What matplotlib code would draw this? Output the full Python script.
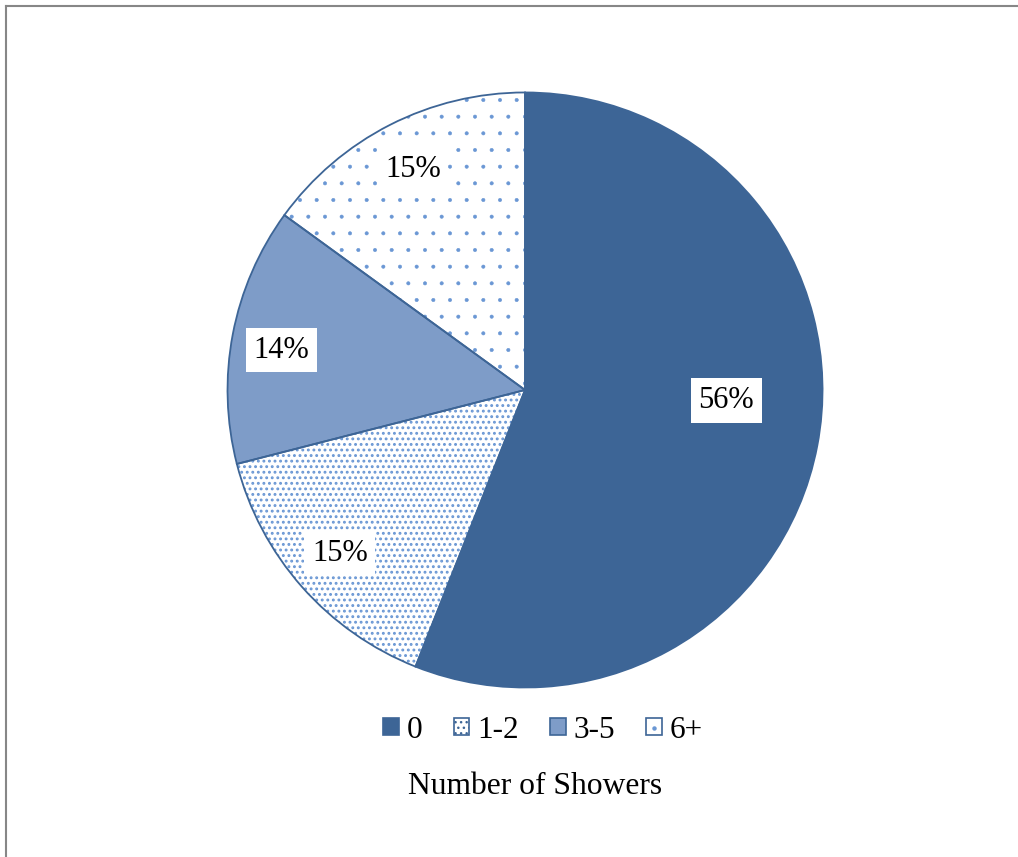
import matplotlib
matplotlib.use("Agg")
import matplotlib.pyplot as plt
from matplotlib.patches import Patch
from matplotlib.lines import Line2D

categories = ["0", "1-2", "3-5", "6+"]
shares = [56, 15, 14, 15]
fills = ["#3D6596", "white", "#7E9CC8", "white"]
hatches = [None, "...", None, "."]
title = "Number of Showers"

dark = "#3D6596"
dot = "#6A97D4"
plt.rcParams["font.family"] = ["Liberation Serif", "DejaVu Serif"]
plt.rcParams["hatch.color"] = dot
plt.rcParams["hatch.linewidth"] = 1.0

fig = plt.figure(figsize=(10.18, 8.57), dpi=100)
ax = fig.add_axes([0.2235, 0.1978, 0.5845, 0.6943])

# filled / hatched wedges, no outline so hatch keeps its light colour
wedges, _, autotexts = ax.pie(shares, colors=fills, startangle=90, counterclock=False,
                              autopct="%d%%", pctdistance=0.83, hatch=hatches,
                              textprops=dict(fontsize=22, color="black"))
if hasattr(wedges[3], "set_hatch_linewidth"):
    wedges[3].set_hatch_linewidth(0.4)
    wedges[1].set_hatch_linewidth(1.3)

# outlines on top
ax.pie(shares, startangle=90, counterclock=False,
       wedgeprops=dict(fill=False, edgecolor=dark, linewidth=1.3))

for t in autotexts:
    t.set_bbox(dict(facecolor="white", edgecolor="none", pad=5.5))
# label placement tweaks (excel best fit)
autotexts[0].set_position((0.676, -0.035))
autotexts[2].set_position((-0.818, 0.134))

ax.set_xlim(-1, 1)
ax.set_ylim(-1, 1)

handles = [Patch(facecolor=c, edgecolor=dark, hatch=h, linewidth=1.2)
           for c, h in zip(fills[:3], hatches[:3])]
handles.append((Patch(facecolor="white", edgecolor=dark, linewidth=1.2),
                Line2D([], [], marker="o", ms=2.2, color=dot, ls="none")))
fig.legend(handles, categories, loc="center", bbox_to_anchor=(543 / 1018, 1 - 730 / 857),
           ncol=4, frameon=False, fontsize=22.5, handlelength=0.5, handleheight=0.5,
           handletextpad=0.25, columnspacing=1.0)

fig.text(535 / 1018, 1 - 787 / 857, title, ha="center", va="center", fontsize=22.7)

# chart frame (only top and left edges visible)
fig.add_artist(Line2D([5.5 / 1018, 1], [1 - 5.5 / 857, 1 - 5.5 / 857], color="#878787", lw=1.5))
fig.add_artist(Line2D([5.5 / 1018, 5.5 / 1018], [1 - 5.5 / 857, 0], color="#878787", lw=1.5))

fig.savefig("out.png", dpi=100)
